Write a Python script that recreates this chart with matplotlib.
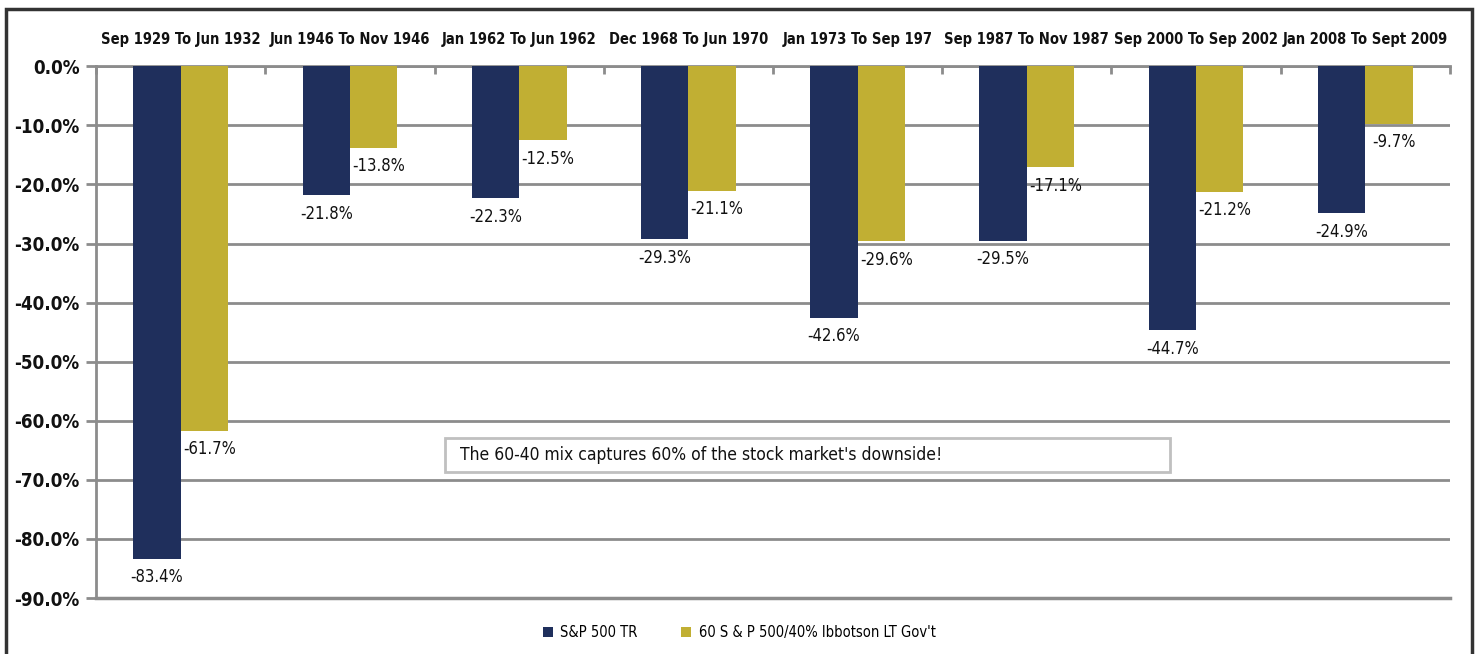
import matplotlib
matplotlib.use("Agg")
import matplotlib.pyplot as plt
import numpy as np
from matplotlib.patches import Rectangle

plt.rcParams["font.family"] = ["DejaVu Sans"]
plt.rcParams["font.stretch"] = "condensed"

periods = ["Sep 1929 To Jun 1932", "Jun 1946 To Nov 1946", "Jan 1962 To Jun 1962",
           "Dec 1968 To Jun 1970", "Jan 1973 To Sep 197", "Sep 1987 To Nov 1987",
           "Sep 2000 To Sep 2002", "Jan 2008 To Sept 2009"]
sp500 = [-83.4, -21.8, -22.3, -29.3, -42.6, -29.5, -44.7, -24.9]
mix6040 = [-61.7, -13.8, -12.5, -21.1, -29.6, -17.1, -21.2, -9.7]
series_names = ["S&P 500 TR", "60 S & P 500/40% Ibbotson LT Gov't"]

NAVY = "#1f2f5c"
GOLD = "#c1af33"
GRID = "#8c8c8c"
INK = "#111111"

fig = plt.figure(figsize=(14.78, 6.54), dpi=100)
ax = fig.add_axes([0.065, 0.0856, 0.916, 0.813])

x = np.arange(len(periods))
w = 0.28
b1 = ax.bar(x - w / 2, sp500, w, color=NAVY, zorder=3, label=series_names[0])
b2 = ax.bar(x + w / 2, mix6040, w, color=GOLD, zorder=3, label=series_names[1])

for xi, v in zip(x - w / 2, sp500):
    ax.text(xi, v - 1.6, f"{v:.1f}%", ha="center", va="top", fontsize=12, color=INK)
for xi, v in zip(x + w / 2, mix6040):
    ax.text(xi + 0.03, v - 1.6, f"{v:.1f}%", ha="center", va="top", fontsize=12, color=INK)

ax.set_ylim(-90, 0)
ax.set_xlim(-0.5, len(periods) - 0.5)
ticks = np.arange(0, -91, -10)
ax.set_yticks(ticks)
ax.set_yticklabels([f"{t:.1f}%" for t in ticks], fontsize=13.5, fontweight="bold", color=INK)
ax.yaxis.grid(True, color=GRID, lw=2, zorder=0)
ax.axhline(-90, color=GRID, lw=2.5, zorder=1, clip_on=False)
ax.tick_params(axis="y", length=7, width=2, color=GRID, pad=5)

# category labels on top, boundary ticks pointing down from the zero line
ax.xaxis.tick_top()
ax.set_xticks(np.arange(-0.5, len(periods)), minor=False)
ax.set_xticklabels([])
ax.tick_params(axis="x", which="major", direction="in", length=6, width=2, color=GRID)
ax.set_xticks(x, minor=True)
ax.set_xticklabels(periods, minor=True, fontsize=10.5, fontweight="bold", color=INK)
ax.tick_params(axis="x", which="minor", length=0, pad=14)

for s in ("right", "bottom"):
    ax.spines[s].set_visible(False)
for s in ("left", "top"):
    ax.spines[s].set_color(GRID)
    ax.spines[s].set_linewidth(2)

ax.add_patch(Rectangle((0.258, 0.237), 0.535, 0.064, transform=ax.transAxes,
                       fc="white", ec="#c0c0c0", lw=2, zorder=5))
ax.text(0.269, 0.269, "The 60-40 mix captures 60% of the stock market's downside!",
        transform=ax.transAxes, fontsize=12.5, color=INK, va="center", ha="left",
        zorder=6)

fig.legend(handles=[b1, b2], labels=series_names, loc="center",
           bbox_to_anchor=(0.5, 0.033), ncol=2, frameon=False, fontsize=10.5,
           handlelength=0.7, handleheight=0.7, columnspacing=3.0, handletextpad=0.5)

fig.patches.append(Rectangle((0.004, -0.05), 0.992, 1.037, transform=fig.transFigure,
                             fill=False, ec="#333333", lw=2.5))

fig.savefig("out.png", dpi=100)
